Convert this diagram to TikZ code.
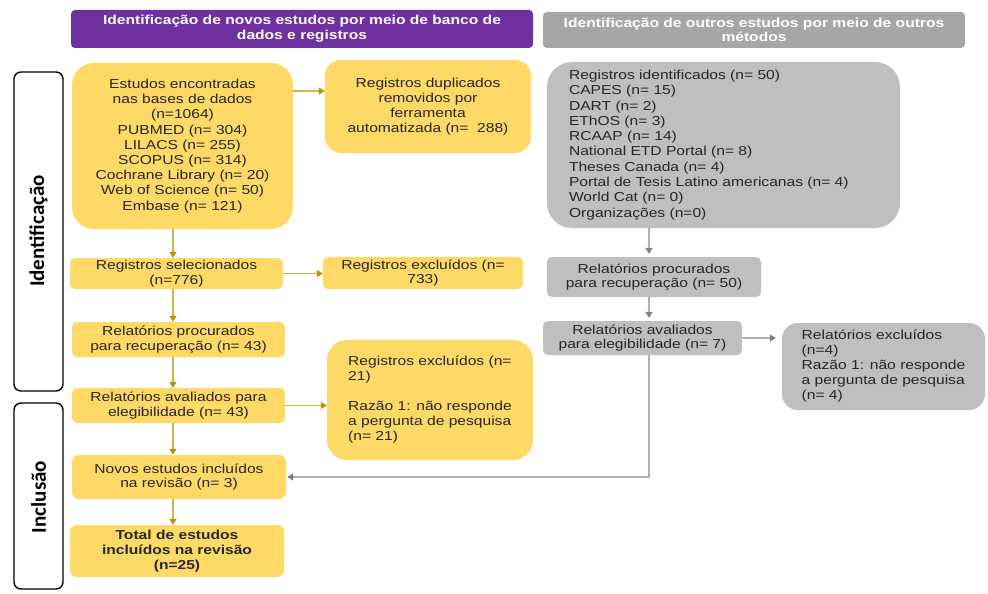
\documentclass[tikz,border=0pt]{standalone}
\usepackage{fontspec}
\setmainfont{Liberation Sans}[FakeStretch=1.2]
\newfontfamily\sidefont{Carlito}
\usetikzlibrary{arrows.meta,calc}
\definecolor{yfill}{HTML}{FFD966}
\definecolor{yline}{HTML}{D4AF55}
\definecolor{ytip}{HTML}{BF9000}
\definecolor{gfill}{HTML}{BFBFBF}
\definecolor{ghead}{HTML}{A6A6A6}
\definecolor{gline}{HTML}{B0B0B0}
\definecolor{gtip}{HTML}{7F7F7F}
\definecolor{hpurple}{HTML}{7030A0}
\definecolor{txtc}{HTML}{262626}
\begin{document}
\begin{tikzpicture}[x=1pt,y=-1pt,
  txt/.style={font=\fontsize{13}{14.5}\selectfont, text=txtc, align=center, inner sep=0pt},
  ybx/.style={txt, fill=yfill, rounded corners=#1},
  ybx/.default=5pt,
  gbx/.style={txt, fill=gfill, rounded corners=#1},
  gbx/.default=5pt,
  hdr/.style={font=\fontsize{13}{14.7}\selectfont\bfseries, text=white, align=center, inner sep=0pt, rounded corners=4pt},
  side/.style={draw=black, line width=1.4pt, fill=white, rounded corners=7pt, minimum width=49pt, inner sep=0pt},
  sidetxt/.style={font=\sidefont\fontsize{21}{24}\selectfont\bfseries, rotate=90, inner sep=0pt},
  yarr/.style={draw=yline, line width=1.2pt, -{Triangle[width=7pt,length=6pt,color=ytip,fill=ytip]}},
  garr/.style={draw=gline, line width=1.4pt, shorten >=3pt, -{Triangle[width=7pt,length=6pt,color=gtip,fill=gtip]}}
]
\useasboundingbox (0,0) rectangle (988,594);

% headers
\node[hdr, fill=hpurple, minimum width=462pt, minimum height=38pt] (h1) at (302,29)
  {Identificação de novos estudos por meio de banco de\\dados e registros};
\node[hdr, fill=ghead, minimum width=422pt, minimum height=36pt] (h2) at (754,30)
  {Identificação de outros estudos por meio de outros\\métodos};

% side labels
\node[side, minimum height=319pt] (sid) at (38.5,231.5) {};
\node[sidetxt] (sidt) at (38.5,231) {Identificação};
\node[side, minimum height=186pt] (sin) at (38.5,496) {};
\node[sidetxt] (sint) at (38.5,497) {Inclusão};

% left column
\node[ybx=22pt, minimum width=221pt, minimum height=166pt, font=\fontsize{13}{15.2}\selectfont] (b1) at (182.5,146)
  {Estudos encontradas\\nas bases de dados\\(n=1064)\\PUBMED (n= 304)\\LILACS (n= 255)\\SCOPUS (n= 314)\\Cochrane Library (n= 20)\\Web of Science (n= 50)\\Embase (n= 121)};
\node[ybx=16pt, minimum width=206pt, minimum height=93pt, font=\fontsize{13}{15}\selectfont] (dup) at (428,106.5)
  {Registros duplicados\\removidos por\\ferramenta\\automatizada (n=\ \ 288)};
\node[ybx, minimum width=213pt, minimum height=31pt] (sel) at (176.5,273.5)
  {Registros selecionados\\(n=776)};
\node[ybx, minimum width=200pt, minimum height=32pt] (ex733) at (423,273)
  {Registros excluídos (n=\\733)};
\node[ybx, minimum width=213pt, minimum height=35pt] (p43) at (178.5,339.5)
  {Relatórios procurados\\para recuperação (n= 43)};
\node[ybx, minimum width=213pt, minimum height=35pt] (a43) at (178.5,405.5)
  {Relatórios avaliados para\\elegibilidade (n= 43)};
\node[ybx=20pt, minimum width=206pt, minimum height=120pt, align=left, font=\fontsize{13}{15}\selectfont] (ex21) at (430,400)
  {Registros excluídos (n=\\21)\\[15pt]Razão 1: não responde\\a pergunta de pesquisa\\(n= 21)};
\node[ybx=7pt, minimum width=214pt, minimum height=44pt] (nov) at (179,477)
  {Novos estudos incluídos\\na revisão (n= 3)};
\node[ybx=7pt, minimum width=214pt, minimum height=52pt, font=\fontsize{13}{15}\selectfont\bfseries] (tot) at (177,551)
  {Total de estudos\\incluídos na revisão\\(n=25)};

% right column
\node[gbx=25pt, minimum width=353pt, minimum height=166pt, align=left, text width=309pt, inner xsep=22pt, font=\fontsize{13}{15.3}\selectfont] (gbig) at (723.5,145)
  {Registros identificados (n= 50)\\CAPES (n= 15)\\DART (n= 2)\\EThOS (n= 3)\\RCAAP (n= 14)\\National ETD Portal (n= 8)\\Theses Canada (n= 4)\\Portal de Tesis Latino americanas (n= 4)\\World Cat (n= 0)\\Organizações (n=0)};
\node[gbx, minimum width=214pt, minimum height=40pt] (gp50) at (654,277)
  {Relatórios procurados\\para recuperação (n= 50)};
\node[gbx, minimum width=199pt, minimum height=34pt] (ga7) at (642.5,338)
  {Relatórios avaliados\\para elegibilidade (n= 7)};
\node[gbx=16pt, minimum width=203pt, minimum height=87pt, align=left, font=\fontsize{13}{15}\selectfont] (gex) at (883.5,366.5)
  {Relatórios excluídos\\(n=4)\\Razão 1: não responde\\a pergunta de pesquisa\\(n= 4)};

% connector helpers
\coordinate (lx) at (173,0);
\coordinate (gx) at (649,0);
\coordinate (r1) at (0,91);

% left connectors
\draw[yarr] (b1.east |- r1) -- (dup.west |- r1);
\draw[yarr] (b1.south -| lx) -- (sel.north -| lx);
\draw[yarr] (sel.east) -- (sel.east -| ex733.west);
\draw[yarr] (sel.south -| lx) -- (p43.north -| lx);
\draw[yarr] (p43.south -| lx) -- (a43.north -| lx);
\draw[yarr] (a43.east) -- (a43.east -| ex21.west);
\draw[yarr] (a43.south -| lx) -- (nov.north -| lx);
\draw[yarr] (nov.south -| lx) -- (tot.north -| lx);

% right connectors
\draw[garr] (gbig.south -| gx) -- (gp50.north -| gx);
\draw[garr] (gp50.south -| gx) -- (ga7.north -| gx);
\draw[garr, shorten >=6pt] (ga7.east) -- (ga7.east -| gex.west);
\draw[garr, shorten >=1pt] (ga7.south -| gx) |- (nov.east);
\end{tikzpicture}
\end{document}
